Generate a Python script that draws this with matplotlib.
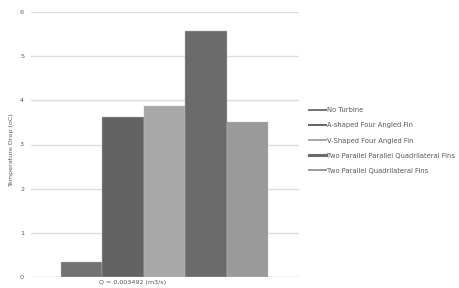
import numpy as np
from matplotlib import pyplot as plt
from matplotlib.lines import Line2D

# ---------------------- data ----------------------
series = ['No Turbine', 'A-shaped Four Angled Fin', 'V-Shaped Four Angled Fin',
          'Two Parallel Parallel Quadrilateral Fins', 'Two Parallel Quadrilateral Fins']
temp_drop = [0.35, 3.63, 3.88, 5.57, 3.52]
category = 'Q = 0,003492 (m3/s)'
colors = ['#727272', '#636363', '#a8a8a8', '#6b6b6b', '#9a9a9a']
legend_widths = [1.4, 1.4, 1.4, 2.2, 1.4]

txt = '#595959'
grid = '#dedede'

fig = plt.figure(figsize=(4.6, 2.88), dpi=100)
ax = fig.add_axes([31/460, 1 - 277/288, 268/460, 265/288])

x = np.arange(len(series))
ax.bar(x, temp_drop, width=1.0, color=colors, edgecolor='#bdbdbd', linewidth=0.3, zorder=3)

ax.set_ylim(0, 6)
ax.set_xlim(-1.225, 5.25)
ax.set_yticks(range(7))
ax.yaxis.grid(True, color=grid, linewidth=1.0, zorder=0)
for s in ax.spines.values():
    s.set_visible(False)
ax.axhline(0, color=grid, linewidth=1.0, zorder=2)

ax.set_xticks([x.mean() + 0.05])
ax.set_xticklabels([category], ha='right')
ax.tick_params(axis='both', length=0, labelsize=4.6, colors=txt, pad=2)
ax.tick_params(axis='y', pad=5)
ax.set_ylabel('Temperature Drop (oC)', fontsize=4.6, color=txt)
ax.yaxis.set_label_coords(-0.065, 0.48)

# legend drawn with line handles, like the spreadsheet export
handles = [Line2D([0], [0], color=c, lw=w) for c, w in zip(colors, legend_widths)]
fig.legend(handles, series, loc='upper left', bbox_to_anchor=(303/460, 1 - 101/288),
           frameon=False, fontsize=4.9, handlelength=2.5, handletextpad=0.2,
           labelspacing=1.35, labelcolor=txt)

fig.savefig('out.png', dpi=100)
